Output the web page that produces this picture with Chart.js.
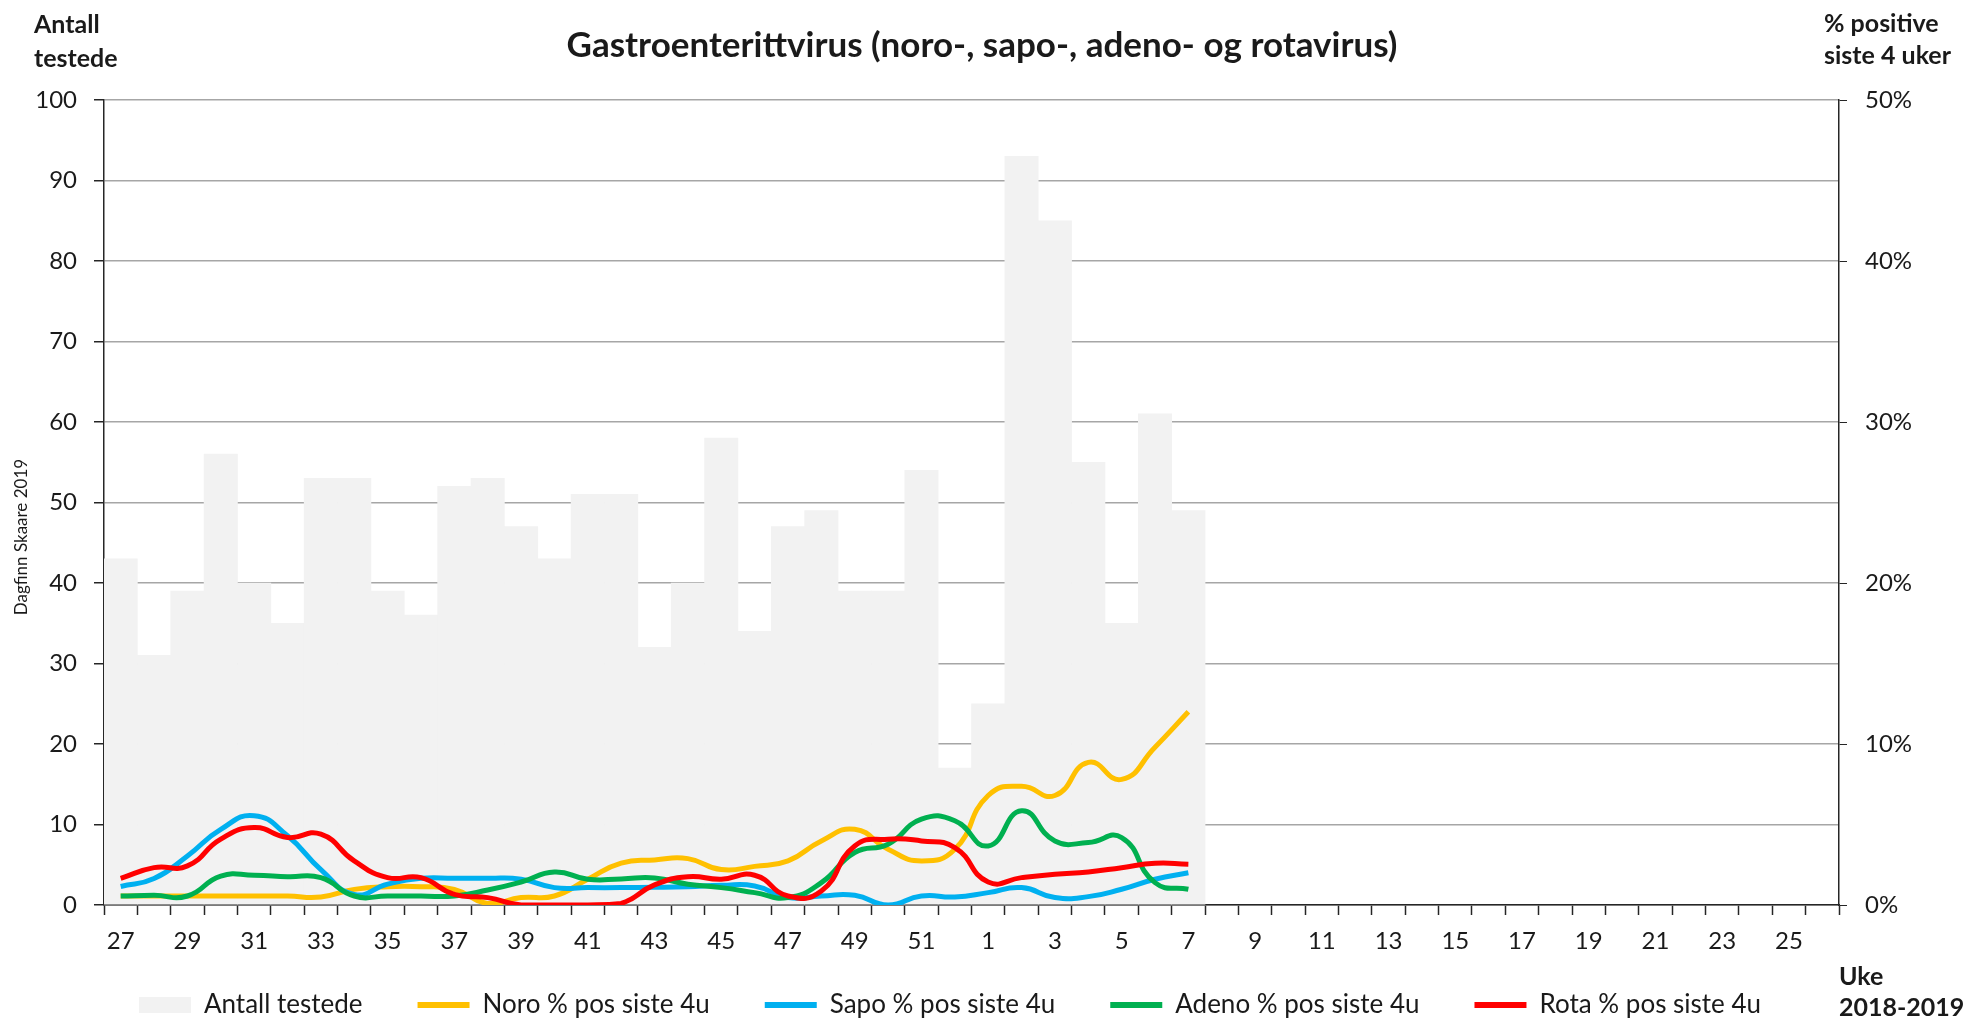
<!DOCTYPE html>
<html>
<head>
<meta charset="utf-8">
<script src="https://cdn.jsdelivr.net/npm/chart.js@4.4.1/dist/chart.umd.min.js"></script>
<style>
  html, body { margin: 0; padding: 0; background: #fff; }
  #wrap { width: 1964px; height: 1021px; position: relative; }
</style>
</head>
<body>
<div id="wrap"><canvas id="gastroChart"></canvas></div>
<script>
// Weeks 27-52 (2018) and 1-26 (2019)
const weeks = [27, 28, 29, 30, 31, 32, 33, 34, 35, 36, 37, 38, 39, 40, 41, 42, 43, 44, 45, 46, 47, 48, 49, 50, 51, 52,
  1, 2, 3, 4, 5, 6, 7, 8, 9, 10, 11, 12, 13, 14, 15, 16, 17, 18, 19, 20, 21, 22, 23, 24, 25, 26];

// Number tested per week (left axis)
const antallTestede = [43, 31, 39, 56, 40, 35, 53, 53, 39, 36, 52, 53, 47, 43, 51, 51, 32, 40, 58, 34, 47, 49, 39, 39, 54, 17,
  25, 93, 85, 55, 35, 61, 49];

// % positive last 4 weeks (right axis)
const noroPos = [0.56, 0.56, 0.56, 0.56, 0.56, 0.56, 0.5, 0.97, 1.14, 1.14, 0.97, 0.1, 0.46, 0.56, 1.6, 2.6, 2.8, 2.88, 2.2, 2.4,
  2.74, 3.98, 4.7, 3.46, 2.74, 3.46, 6.8, 7.37, 6.8, 8.86, 7.8, 9.8, 12.0];
const sapoPos = [1.15, 1.64, 3.05, 4.7, 5.55, 4.3, 2.2, 0.66, 1.3, 1.66, 1.66, 1.66, 1.6, 1.08, 1.08, 1.08, 1.1, 1.14, 1.22, 1.18,
  0.46, 0.56, 0.6, 0, 0.56, 0.5, 0.77, 1.08, 0.46, 0.52, 0.98, 1.6, 2.0];
const adenoPos = [0.56, 0.6, 0.56, 1.8, 1.85, 1.76, 1.7, 0.56, 0.56, 0.56, 0.56, 0.93, 1.43, 2.05, 1.6, 1.62, 1.68, 1.29, 1.08, 0.77,
  0.46, 1.39, 3.26, 3.78, 5.33, 5.23, 3.67, 5.85, 3.98, 3.88, 4.19, 1.39, 0.98];
const rotaPos = [1.66, 2.32, 2.43, 4.09, 4.81, 4.19, 4.4, 2.74, 1.7, 1.7, 0.66, 0.46, 0, 0, 0, 0.1, 1.25, 1.75, 1.6, 1.85,
  0.56, 0.87, 3.67, 4.09, 3.98, 3.57, 1.43, 1.7, 1.91, 2.05, 2.32, 2.59, 2.53];

const textColor = '#1a1a1a';
const axisColor = '#262626';

Chart.defaults.font.family = 'Lato, "Open Sans", sans-serif';
Chart.defaults.color = textColor;

// corner labels + watermark
const cornerText = {
  id: 'cornerText',
  afterDraw(chart) {
    const c = chart.ctx;
    c.save();
    c.fillStyle = textColor;
    c.textBaseline = 'middle';
    c.textAlign = 'left';
    c.font = 'bold 25px Lato, sans-serif';
    c.fillText('Antall', 34, 25);
    c.fillText('testede', 34, 59);
    c.fillText('% positive', 1824, 24);
    c.fillText('siste 4 uker', 1824, 56);
    c.fillText('Uke', 1839, 977);
    c.fillText('2018-2019', 1839, 1008);

    c.font = '17px Lato, sans-serif';
    c.translate(22, 537);
    c.rotate(-Math.PI / 2);
    c.textAlign = 'center';
    c.fillText('Dagfinn Skaare 2019', 0, 0);
    c.restore();
  }
};

// nudge the legend row to where the original sits (box grows so nothing is clipped)
const legendNudge = {
  id: 'legendNudge',
  afterLayout(chart) {
    const lg = chart.legend;
    if (!lg) return;
    lg.left -= 32; lg.right -= 32;
    lg.top -= 19;
    lg.bottom = chart.height + 20;
    lg.height = lg.bottom - lg.top;
  }
};

const lineDefaults = { type: 'line', yAxisID: 'y1', borderWidth: 5, pointRadius: 0, tension: 0.5, fill: false };

new Chart(document.getElementById('gastroChart'), {
  type: 'bar',
  data: {
    labels: weeks,
    datasets: [
      { label: 'Antall testede', data: antallTestede, yAxisID: 'y', backgroundColor: '#f2f2f2',
        barPercentage: 1, categoryPercentage: 1, order: 5 },
      { ...lineDefaults, label: 'Noro % pos siste 4u', data: noroPos, borderColor: '#ffc000', backgroundColor: '#ffc000', order: 4 },
      { ...lineDefaults, label: 'Sapo % pos siste 4u', data: sapoPos, borderColor: '#00b0f0', backgroundColor: '#00b0f0', order: 3 },
      { ...lineDefaults, label: 'Adeno % pos siste 4u', data: adenoPos, borderColor: '#00b050', backgroundColor: '#00b050', order: 2 },
      { ...lineDefaults, label: 'Rota % pos siste 4u', data: rotaPos, borderColor: '#ff0000', backgroundColor: '#ff0000', order: 1 }
    ]
  },
  options: {
    responsive: true,
    maintainAspectRatio: false,
    animation: false,
    layout: { padding: { left: 0, right: 0, top: 0, bottom: 0 } },
    plugins: {
      title: {
        display: true,
        text: 'Gastroenterittvirus (noro-, sapo-, adeno- og rotavirus)',
        color: textColor,
        font: { size: 35, weight: 'bold' },
        padding: { top: 25, bottom: 33 }
      },
      legend: {
        position: 'bottom',
        maxHeight: 65,
        labels: {
          color: textColor,
          font: { size: 26 },
          usePointStyle: true,
          pointStyleWidth: 52,
          boxHeight: 16,
          padding: 55,
          sort: (a, b) => a.datasetIndex - b.datasetIndex,
          generateLabels(chart) {
            const items = Chart.defaults.plugins.legend.labels.generateLabels(chart);
            items.forEach(it => {
              if (it.datasetIndex === 0) {
                it.pointStyle = 'rect';
                it.lineWidth = 0;
              } else {
                it.pointStyle = 'line';
                it.lineWidth = 6;
              }
            });
            return items;
          }
        }
      },
      tooltip: { enabled: false }
    },
    scales: {
      x: {
        offset: true,
        grid: { offset: true, drawOnChartArea: false, tickLength: 10, tickColor: axisColor, tickWidth: 1.5 },
        border: { color: axisColor, width: 1.5 },
        ticks: {
          autoSkip: false, maxRotation: 0, padding: 12, color: textColor, font: { size: 24 },
          callback(v, i) { return i % 2 === 0 ? this.getLabelForValue(v) : ''; }
        },
        afterFit(s) { s.height = 51; }
      },
      y: {
        position: 'left',
        min: 0, max: 100,
        ticks: { stepSize: 10, padding: 17, color: textColor, font: { size: 24 } },
        grid: { color: '#a6a6a6', lineWidth: 1.5, tickLength: 10, tickColor: axisColor },
        border: { color: axisColor, width: 1.5 },
        afterFit(s) { s.width = 104; }
      },
      y1: {
        position: 'right',
        min: 0, max: 50,
        ticks: { stepSize: 10, padding: 18, color: textColor, font: { size: 24 }, callback: v => v + '%' },
        grid: { drawOnChartArea: false, tickLength: 8, tickColor: axisColor },
        border: { color: axisColor, width: 1.5 },
        afterFit(s) { s.width = 125; }
      }
    }
  },
  plugins: [cornerText, legendNudge]
});
</script>
</body>
</html>
